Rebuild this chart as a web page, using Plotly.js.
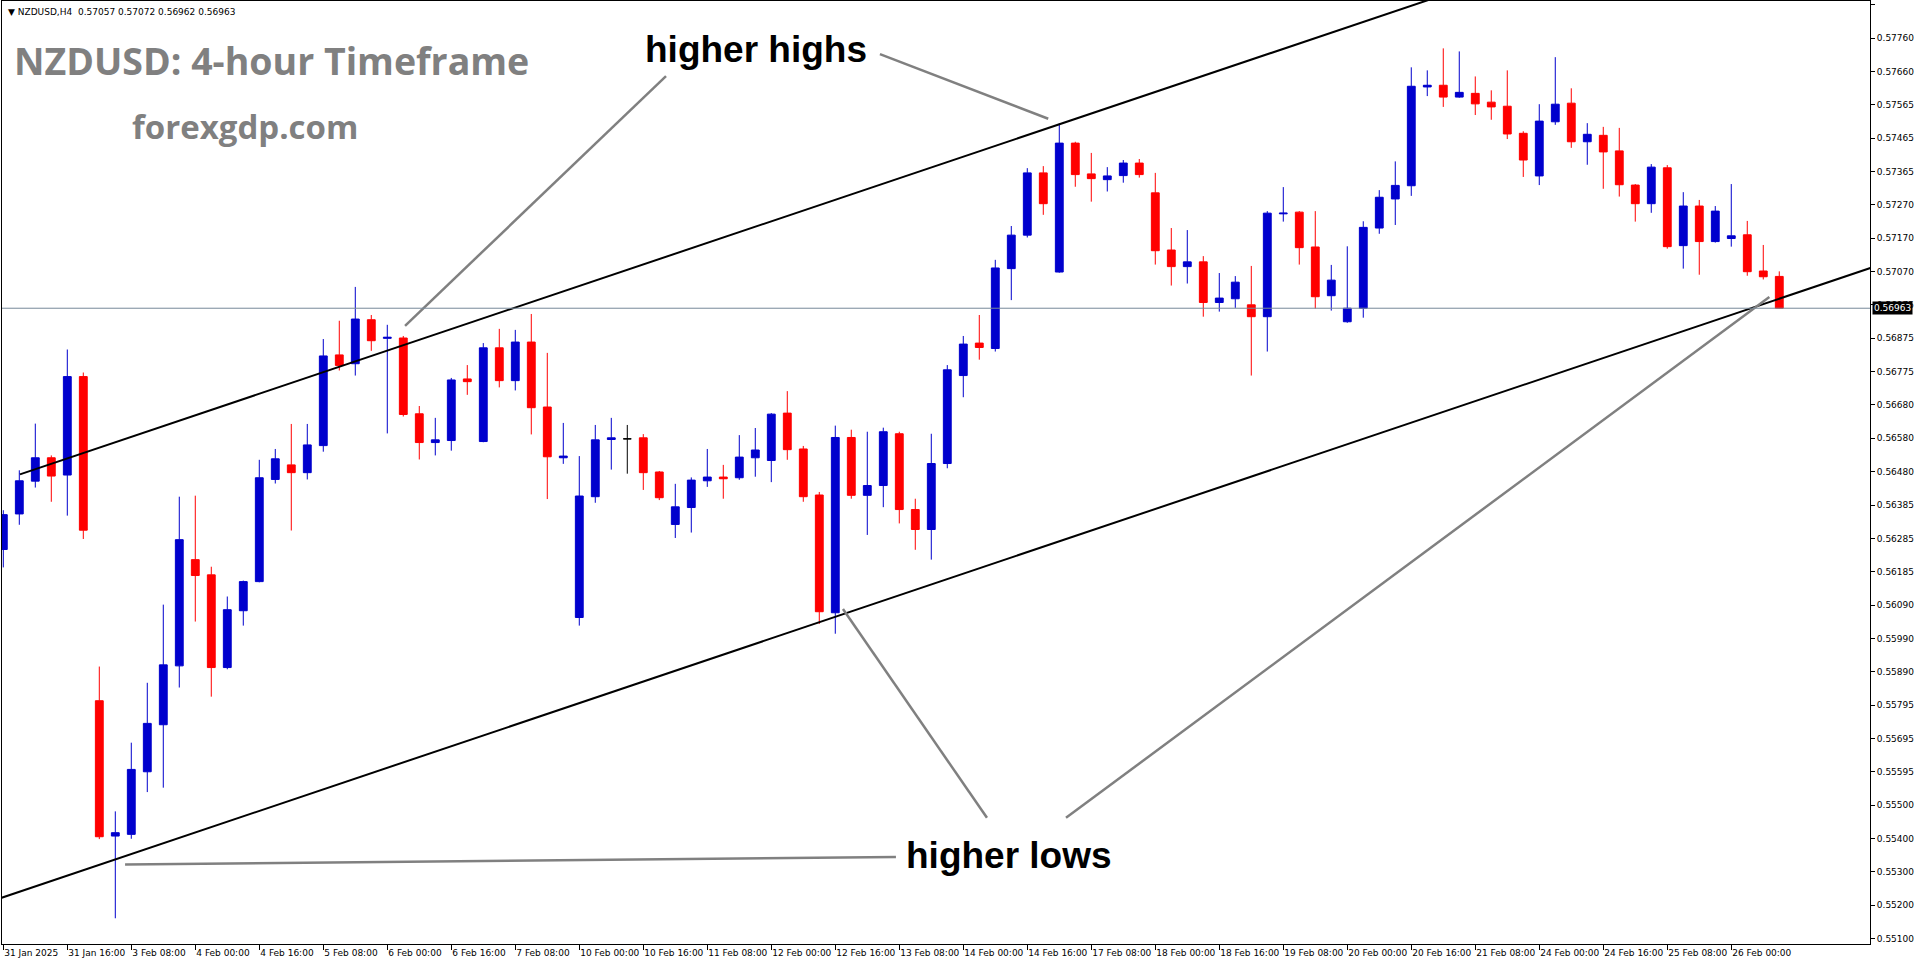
<!DOCTYPE html>
<html>
<head>
<meta charset="utf-8">
<script src="https://cdn.plot.ly/plotly-3.0.1.min.js"></script>
<style>
html,body{margin:0;padding:0;background:#fff;}
#chart{width:1916px;height:964px;}
</style>
</head>
<body>
<div id="chart"></div>
<script>
// ---- DATA (NZDUSD H4, candle index 0 = 31 Jan 2025 00:00) ----
const openArr = [
0.56250,0.56355,0.56452,0.56521,0.56470,0.56761,0.55803,0.55403,0.55408,0.55593,
0.55732,0.55906,0.56220,0.56175,0.55901,0.56069,0.56155,0.56457,0.56500,0.56477,
0.56557,0.56825,0.56799,0.56929,0.56874,0.56875,0.56651,0.56566,0.56572,0.56754,
0.56569,0.56846,0.56749,0.56863,0.56671,0.56521,0.56049,0.56406,0.56575,0.56577,
0.56580,0.56479,0.56324,0.56374,0.56453,0.56464,0.56462,0.56521,0.56513,0.56653,
0.56547,0.56411,0.56063,0.56581,0.56410,0.56439,0.56592,0.56368,0.56309,0.56504,
0.56764,0.56860,0.56844,0.57080,0.57179,0.57363,0.57070,0.57451,0.57360,0.57343,
0.57355,0.57392,0.57304,0.57135,0.57086,0.57100,0.56980,0.56991,0.56973,0.56938,
0.57242,0.57247,0.57144,0.57000,0.56923,0.56963,0.57200,0.57286,0.57325,0.57617,
0.57622,0.57587,0.57598,0.57572,0.57560,0.57480,0.57354,0.57514,0.57569,0.57455,
0.57474,0.57428,0.57327,0.57272,0.57378,0.57148,0.57265,0.57160,0.57169,0.57180,
0.57073,0.57057];
const highArr = [
0.56366,0.56484,0.56622,0.56528,0.56841,0.56773,0.55904,0.55476,0.55679,0.55856,
0.56087,0.56406,0.56409,0.56199,0.56111,0.56158,0.56515,0.56547,0.56621,0.56621,
0.56872,0.56926,0.57026,0.56943,0.56914,0.56881,0.56674,0.56639,0.56757,0.56795,
0.56860,0.56902,0.56899,0.56946,0.56831,0.56624,0.56526,0.56618,0.56639,0.56618,
0.56591,0.56482,0.56444,0.56463,0.56547,0.56500,0.56588,0.56609,0.56653,0.56718,
0.56556,0.56420,0.56616,0.56604,0.56598,0.56610,0.56598,0.56400,0.56592,0.56795,
0.56881,0.56943,0.57106,0.57206,0.57377,0.57383,0.57509,0.57455,0.57422,0.57380,
0.57401,0.57404,0.57363,0.57200,0.57194,0.57117,0.57067,0.57058,0.57088,0.57250,
0.57321,0.57250,0.57250,0.57091,0.57146,0.57220,0.57312,0.57397,0.57675,0.57666,
0.57731,0.57722,0.57648,0.57607,0.57666,0.57486,0.57566,0.57705,0.57613,0.57510,
0.57499,0.57496,0.57330,0.57389,0.57386,0.57306,0.57283,0.57265,0.57330,0.57221,
0.57150,0.57072];
const lowArr = [
0.56197,0.56323,0.56433,0.56391,0.56350,0.56281,0.55394,0.55160,0.55395,0.55533,
0.55546,0.55842,0.56037,0.55815,0.55896,0.56025,0.56153,0.56445,0.56306,0.56457,
0.56539,0.56779,0.56764,0.56837,0.56593,0.56643,0.56516,0.56528,0.56542,0.56707,
0.56567,0.56729,0.56720,0.56590,0.56399,0.56503,0.56025,0.56388,0.56486,0.56474,
0.56426,0.56396,0.56284,0.56300,0.56435,0.56400,0.56456,0.56465,0.56449,0.56515,
0.56391,0.56030,0.56001,0.56400,0.56293,0.56375,0.56327,0.56249,0.56220,0.56490,
0.56700,0.56811,0.56835,0.56987,0.57172,0.57239,0.57068,0.57322,0.57278,0.57308,
0.57334,0.57349,0.57092,0.57030,0.57036,0.56938,0.56953,0.56964,0.56764,0.56835,
0.57219,0.57092,0.56962,0.56956,0.56920,0.56935,0.57183,0.57209,0.57295,0.57590,
0.57558,0.57585,0.57534,0.57520,0.57463,0.57351,0.57327,0.57505,0.57437,0.57387,
0.57316,0.57293,0.57219,0.57245,0.57139,0.57080,0.57062,0.57157,0.57145,0.57059,
0.57048,0.56962];
const closeArr = [
0.56353,0.56453,0.56521,0.56467,0.56761,0.56307,0.55401,0.55413,0.55600,0.55736,
0.55909,0.56279,0.56173,0.55901,0.56072,0.56155,0.56462,0.56518,0.56477,0.56559,
0.56822,0.56794,0.56931,0.56867,0.56877,0.56649,0.56566,0.56574,0.56751,0.56746,
0.56846,0.56749,0.56863,0.56669,0.56524,0.56526,0.56408,0.56574,0.56580,0.56577,
0.56477,0.56403,0.56376,0.56455,0.56464,0.56459,0.56523,0.56544,0.56650,0.56545,
0.56406,0.56066,0.56581,0.56410,0.56439,0.56598,0.56368,0.56309,0.56504,0.56781,
0.56857,0.56847,0.57082,0.57179,0.57363,0.57272,0.57451,0.57358,0.57346,0.57354,
0.57392,0.57358,0.57133,0.57086,0.57100,0.56980,0.56993,0.57040,0.56938,0.57244,
0.57244,0.57142,0.56997,0.57046,0.56963,0.57202,0.57291,0.57326,0.57619,0.57622,
0.57587,0.57601,0.57567,0.57558,0.57478,0.57401,0.57516,0.57566,0.57455,0.57477,
0.57425,0.57328,0.57272,0.57380,0.57145,0.57265,0.57160,0.57250,0.57177,0.57071,
0.57056,0.56963];
const dojiIndex = [39];

const xTickLabels = ['31 Jan 2025','31 Jan 16:00','3 Feb 08:00','4 Feb 00:00','4 Feb 16:00',
'5 Feb 08:00','6 Feb 00:00','6 Feb 16:00','7 Feb 08:00','10 Feb 00:00','10 Feb 16:00',
'11 Feb 08:00','12 Feb 00:00','12 Feb 16:00','13 Feb 08:00','14 Feb 00:00','14 Feb 16:00',
'17 Feb 08:00','18 Feb 00:00','18 Feb 16:00','19 Feb 08:00','20 Feb 00:00','20 Feb 16:00',
'21 Feb 08:00','24 Feb 00:00','24 Feb 16:00','25 Feb 08:00','26 Feb 00:00'];
const candlesPerTick = 4;

const yTickLabels = ['0.57860','0.57760','0.57660','0.57565','0.57465','0.57365','0.57270',
'0.57170','0.57070','0.56975','0.56875','0.56775','0.56680','0.56580','0.56480','0.56385',
'0.56285','0.56185','0.56090','0.55990','0.55890','0.55795','0.55695','0.55595','0.55500',
'0.55400','0.55300','0.55200','0.55100'];

// trend channel (candle index, price)
const upperLineX = [1.04, 116.7];
const upperLineY = [0.56472, 0.58314];
const lowerLineX = [-0.21, 116.7];
const lowerLineY = [0.55219, 0.57082];

// gray pointer lines (candle index, price)
const pointerX = [[41.42, 25.11], [54.79, 65.31], [61.48, 52.48], [66.42, 110.38], [7.61, 55.79]];
const pointerY = [[0.57649, 0.56911], [0.57714, 0.57523], [0.55457, 0.56074], [0.55457, 0.56996], [0.55319, 0.55341]];

const symbolName = 'NZDUSD,H4';
const titleText = 'NZDUSD: 4-hour Timeframe';
const siteText = 'forexgdp.com';
const highLabel = 'higher highs';
const lowLabel = 'higher lows';

// ---- BUILD ----
const n = openArr.length;
const idx = [...Array(n).keys()];
const mainIdx = idx.filter(i => !dojiIndex.includes(i));
const pick = (arr, ids) => ids.map(i => arr[i]);

const BLUE = '#0000CD', RED = '#FF0000';
const traces = [];
traces.push({
  type: 'candlestick',
  x: mainIdx, open: pick(openArr, mainIdx), high: pick(highArr, mainIdx),
  low: pick(lowArr, mainIdx), close: pick(closeArr, mainIdx),
  increasing: {line: {color: BLUE, width: 1}, fillcolor: BLUE},
  decreasing: {line: {color: RED, width: 1}, fillcolor: RED},
  whiskerwidth: 0, hoverinfo: 'skip'
});
traces.push({
  type: 'candlestick',
  x: dojiIndex, open: pick(openArr, dojiIndex), high: pick(highArr, dojiIndex),
  low: pick(lowArr, dojiIndex), close: pick(closeArr, dojiIndex),
  increasing: {line: {color: '#000000', width: 1}, fillcolor: '#000000'},
  decreasing: {line: {color: '#000000', width: 1}, fillcolor: '#000000'},
  whiskerwidth: 0, hoverinfo: 'skip'
});
traces.push({type: 'scatter', mode: 'lines', x: upperLineX, y: upperLineY,
  line: {color: '#000000', width: 2}, hoverinfo: 'skip'});
traces.push({type: 'scatter', mode: 'lines', x: lowerLineX, y: lowerLineY,
  line: {color: '#000000', width: 2}, hoverinfo: 'skip'});
pointerX.forEach((px, k) => {
  traces.push({type: 'scatter', mode: 'lines', x: px, y: pointerY[k],
    line: {color: '#808080', width: 2.5}, hoverinfo: 'skip'});
});

const last = n - 1;
const lastClose = closeArr[last];
const yTop = parseFloat(yTickLabels[0]);
const yBot = parseFloat(yTickLabels[yTickLabels.length - 1]);
const yStep = (yTop - yBot) / (yTickLabels.length - 1);
const yTickVals = yTickLabels.map((_, k) => yTop - k * yStep);
const xTickVals = xTickLabels.map((_, k) => k * candlesPerTick);

// pixel helpers for text placement in paper coords
const PL = 2, PR = 1870, PT = 1, PB = 944;
const px2paperX = p => (p - PL) / (PR - PL);
const px2paperY = p => (PB - p) / (PB - PT);

const axisFont = {family: 'DejaVu Sans', size: 9, color: '#000000'};
const header = '\u25BC ' + symbolName + '\u00a0\u00a0' +
  [openArr[last], highArr[last], lowArr[last], closeArr[last]].map(v => v.toFixed(5)).join(' ');

const layout = {
  width: 1916, height: 964,
  margin: {l: PL, r: 1916 - PR, t: PT, b: 964 - PB, pad: 0},
  paper_bgcolor: '#ffffff', plot_bgcolor: '#ffffff',
  showlegend: false,
  xaxis: {
    range: [-0.081, 116.67], tickmode: 'array', tickvals: xTickVals, ticktext: xTickLabels,
    ticks: 'outside', ticklen: 5, tickwidth: 1, tickcolor: '#000000', tickangle: 0,
    showline: true, linecolor: '#000000', linewidth: 1, mirror: true,
    showgrid: false, zeroline: false, rangeslider: {visible: false},
    tickfont: axisFont, ticklabelposition: 'outside right', ticklabelstandoff: 0,
    automargin: false, fixedrange: true
  },
  yaxis: {
    side: 'right', range: [0.55084, 0.57871], tickmode: 'array',
    tickvals: yTickVals, ticktext: yTickLabels,
    ticks: 'outside', ticklen: 4, tickwidth: 1, tickcolor: '#000000',
    showline: true, linecolor: '#000000', linewidth: 1, mirror: true,
    showgrid: false, zeroline: false, tickfont: axisFont, automargin: false, fixedrange: true
  },
  shapes: [{type: 'line', xref: 'paper', x0: 0, x1: 1, yref: 'y', y0: lastClose, y1: lastClose,
    line: {color: '#778899', width: 1}}],
  annotations: [
    {xref: 'paper', yref: 'paper', x: px2paperX(6), y: px2paperY(12), xanchor: 'left', yanchor: 'middle',
     text: header, showarrow: false, font: {family: 'DejaVu Sans', size: 9, color: '#000000'}},
    {xref: 'paper', yref: 'paper', x: px2paperX(12), y: px2paperY(61), xanchor: 'left', yanchor: 'middle',
     text: titleText, showarrow: false, font: {family: 'Open Sans', size: 37.5, weight: 700, color: '#808080'}},
    {xref: 'paper', yref: 'paper', x: px2paperX(130), y: px2paperY(127), xanchor: 'left', yanchor: 'middle',
     text: siteText, showarrow: false, font: {family: 'Open Sans', size: 33, weight: 700, color: '#808080'}},
    {xref: 'paper', yref: 'paper', x: px2paperX(643), y: px2paperY(49), xanchor: 'left', yanchor: 'middle',
     text: highLabel, showarrow: false, font: {family: 'Liberation Sans', size: 37, weight: 700, color: '#000000'}},
    {xref: 'paper', yref: 'paper', x: px2paperX(904), y: px2paperY(855), xanchor: 'left', yanchor: 'middle',
     text: lowLabel, showarrow: false, font: {family: 'Liberation Sans', size: 37, weight: 700, color: '#000000'}},
    {xref: 'paper', yref: 'y', x: 1, y: lastClose, xanchor: 'left', yanchor: 'middle', xshift: 2,
     text: lastClose.toFixed(5), showarrow: false, bgcolor: '#000000', borderpad: 1,
     font: {family: 'DejaVu Sans', size: 9, color: '#ffffff'}}
  ]
};

Plotly.newPlot('chart', traces, layout, {displayModeBar: false, staticPlot: true});
</script>
</body>
</html>
